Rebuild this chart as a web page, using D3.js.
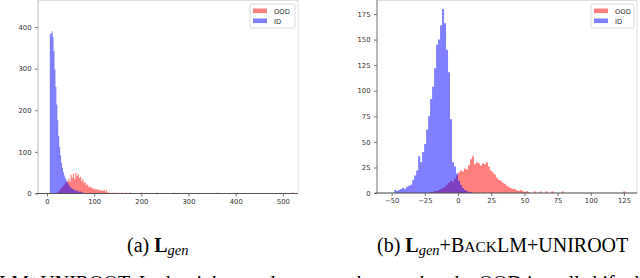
<!DOCTYPE html>
<html><head><meta charset="utf-8">
<script src="https://cdn.jsdelivr.net/npm/d3@7"></script>
<style>html,body{margin:0;padding:0;background:#fff;overflow:hidden}svg{display:block}</style>
</head><body>
<svg id="c" width="640" height="278"></svg>
<script>
// ---- data ----
// panel (a): L_gen
const idA_start = 6, idA_width = 2;
const idA = [382,385,390,376,342,298,256,214,176,138,112,92,74,61,51,43,37,32,28,24,20,17,14,12,10,11,8,7,6,7,5,4,5,3,3,2,2,1];
const oodA_start = 20, oodA_width = 2.5;
const oodA = [2,4,7,10,14,17,20,24,27,30,36,28,45,38,48,35,50,42,46,38,40,30,34,25,27,20,22,15,18,13,14,10,12,9,11,8,9,7,8,6,9,5,8,3];
const oodA_tail = [132.5,137.5,142.5,150,157.5,165,175,200,232.5,267.5,360,520];
const xTicksA = [0,100,200,300,400,500];
const yTicksA = [0,100,200,300,400];
// panel (b): L_gen + BackLM + UniRoot
const idB_start = -48, idB_width = 1.5;
const idB = [3,2,3,4,5,4,6,7,8,13,17,22,36,30,40,48,62,75,92,104,122,145,150,164,180,166,140,118,72,30,26,19,12,8,5,3,2,1,1];
const oodB_start = -21, oodB_width = 1.5;
const oodB = [1,1,2,2,3,4,5,6,8,10,12,11,14,17,20,22,21,24,23,27,33,36,28,30,29,27,29,28,30,26,22,20,18,15,13,12,10,9,7,6,5,4,4,3,2,3,2,1,2,1];
const oodB_tail = [57,61.5,66,70.5,78,124.5];
const xTicksB = [-50,-25,0,25,50,75,100,125];
const yTicksB = [0,25,50,75,100,125,150,175];
const legendLabels = ["OOD","ID"];

const svg = d3.select("#c");
const RED = "#ff0000", BLUE = "#0000ff";

function panel(o){
  const g = svg.append("g");
  const x = d3.scaleLinear().domain(o.xd).range(o.xr);
  const y = d3.scaleLinear().domain(o.yd).range(o.yr);
  const [L,R] = o.xr, [B,T] = o.yr;
  g.append("rect").attr("x",L).attr("y",T+0.5).attr("width",R-L).attr("height",B-T-0.5)
    .attr("fill","none").attr("stroke","#d8d8d8").attr("stroke-width",0.8);
  function hist(counts,start,w,color){
    const pts = counts.map((c,i)=>({x:start+i*w,y:c}));
    pts.push({x:start+counts.length*w,y:counts[counts.length-1]});
    const area = d3.area().curve(d3.curveStepAfter).x(d=>x(d.x)).y0(y(0)).y1(d=>y(d.y));
    g.append("path").attr("d",area(pts)).attr("fill",color).attr("fill-opacity",0.5);
  }
  function tail(vals,w,color){
    g.selectAll(null).data(vals).enter().append("rect")
      .attr("x",d=>x(d)).attr("width",d=>x(d+w)-x(d))
      .attr("y",y(1)-0.6).attr("height",y(0)-y(1)+0.6)
      .attr("fill",color).attr("fill-opacity",0.5);
  }
  hist(o.ood,o.oodStart,o.oodW,RED);
  tail(o.oodTail,o.oodW,RED);
  hist(o.id,o.idStart,o.idW,BLUE);
  const fs = "6.8px";
  const ax = g.append("g").attr("transform",`translate(0,${B})`)
    .call(d3.axisBottom(x).tickValues(o.xt).tickSize(3).tickPadding(2.5).tickFormat(d3.format("d")));
  const ay = g.append("g").attr("transform",`translate(${L},0)`)
    .call(d3.axisLeft(y).tickValues(o.yt).tickSize(3).tickPadding(3.5).tickFormat(d3.format("d")));
  [ax,ay].forEach(a=>{
    a.select(".domain").remove();
    a.selectAll("line").attr("stroke","#555").attr("stroke-width",0.8);
    a.selectAll("text").attr("fill","#333").style("font-family","DejaVu Sans").style("font-size",fs);
  });
  g.append("line").attr("x1",L).attr("x2",L).attr("y1",T).attr("y2",B).attr("stroke",o.leftSpine).attr("stroke-width",0.9);
  g.append("line").attr("x1",L-2).attr("x2",R).attr("y1",B).attr("y2",B).attr("stroke","#555").attr("stroke-width",1);
  const lg = g.append("g").attr("transform",`translate(${o.leg[0]},${o.leg[1]})`);
  lg.append("rect").attr("width",o.leg[2]).attr("height",24).attr("rx",2)
    .attr("fill","#fff").attr("fill-opacity",0.8).attr("stroke","#d0d0d0").attr("stroke-width",0.8);
  [RED,BLUE].forEach((c,i)=>{
    lg.append("rect").attr("x",3).attr("y",4.5+i*10).attr("width",14).attr("height",4.6)
      .attr("fill",c).attr("fill-opacity",0.5);
    lg.append("text").attr("x",24).attr("y",9.5+i*10).text(legendLabels[i])
      .attr("fill","#333").style("font-family","DejaVu Sans").style("font-size",fs);
  });
}

panel({xd:[-19,532], xr:[38,298], yd:[0,465], yr:[193.5,0],
  id:idA, idStart:idA_start, idW:idA_width, ood:oodA, oodStart:oodA_start, oodW:oodA_width, oodTail:oodA_tail,
  xt:xTicksA, yt:yTicksA, leftSpine:"#c8c8c8", leg:[250,4,45]});
panel({xd:[-61,134.8], xr:[377,637], yd:[0,188.7], yr:[193,0],
  id:idB, idStart:idB_start, idW:idB_width, ood:oodB, oodStart:oodB_start, oodW:oodB_width, oodTail:oodB_tail,
  xt:xTicksB, yt:yTicksB, leftSpine:"#777", leg:[591,4,43]});

// captions
const cap = svg.append("g").style("font-family","Liberation Serif, Times New Roman, serif").attr("fill","#000");
const ca = cap.append("text").attr("x",127).attr("y",252).style("font-size","20px");
ca.append("tspan").text("(a) ");
ca.append("tspan").text("L").style("font-weight","bold");
ca.append("tspan").text("gen").style("font-style","italic").style("font-size","14.5px").attr("dy",3);
const cb = cap.append("text").attr("x",377).attr("y",252).style("font-size","20px");
cb.append("tspan").text("(b) ");
cb.append("tspan").text("L").style("font-weight","bold");
cb.append("tspan").text("gen").style("font-style","italic").style("font-size","14.5px").attr("dy",3);
cb.append("tspan").text("+B").attr("dy",-3);
cb.append("tspan").text("ACK").style("font-size","15.5px");
cb.append("tspan").text("LM+UNIROOT");
cap.append("text").attr("x",-1).attr("y",290).style("font-size","20px")
  .text("LM+UNIROOT. In the right panel, we can observe that the OOD is well shifted away with the ID");
</script>
</body></html>
